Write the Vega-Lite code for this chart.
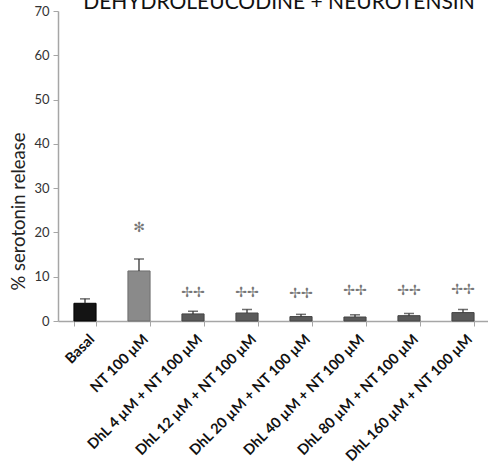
{
  "$schema": "https://vega.github.io/schema/vega-lite/v6.json",
  "autosize": {"type": "none"},
  "width": 432,
  "height": 310,
  "padding": {"left": 58, "top": 11, "right": 0, "bottom": 155},
  "background": "white",
  "config": {
    "font": "Lato",
    "view": {"stroke": null}
  },
  "title": {
    "text": "DEHYDROLEUCODINE + NEUROTENSIN",
    "font": "Lato",
    "fontSize": 21,
    "fontWeight": "normal",
    "color": "#111111",
    "anchor": "middle",
    "frame": "group",
    "baseline": "top",
    "offset": 0,
    "dy": 8,
    "dx": 5
  },
  "data": {
    "values": [
      {"group": "Basal", "mean": 4.0, "upper": 5.0, "kind": "basal", "mark": ""},
      {"group": "NT 100 µM", "mean": 11.3, "upper": 14.0, "kind": "nt", "mark": "✻", "markY": 21},
      {"group": "DhL 4 µM + NT 100 µM", "mean": 1.6, "upper": 2.2, "kind": "dhl", "mark": "✢✢", "markY": 6.3},
      {"group": "DhL 12 µM + NT 100 µM", "mean": 1.8, "upper": 2.6, "kind": "dhl", "mark": "✢✢", "markY": 6.3},
      {"group": "DhL 20 µM + NT 100 µM", "mean": 1.0, "upper": 1.5, "kind": "dhl", "mark": "✢✢", "markY": 6.2},
      {"group": "DhL 40 µM + NT 100 µM", "mean": 0.9, "upper": 1.4, "kind": "dhl", "mark": "✢✢", "markY": 6.8},
      {"group": "DhL 80 µM + NT 100 µM", "mean": 1.2, "upper": 1.7, "kind": "dhl", "mark": "✢✢", "markY": 6.8},
      {"group": "DhL 160 µM + NT 100 µM", "mean": 1.9, "upper": 2.6, "kind": "dhl", "mark": "✢✢", "markY": 7.0}
    ]
  },
  "encoding": {
    "x": {
      "field": "group",
      "type": "nominal",
      "sort": null,
      "scale": {"paddingInner": 0.59, "paddingOuter": 0.295},
      "axis": {
        "title": null,
        "labelAngle": -45,
        "labelAlign": "right",
        "labelBaseline": "top",
        "labelFontSize": 14.5,
        "labelFontWeight": "bold",
        "labelColor": "#111111",
        "labelPadding": 6,
        "labelOffset": 2,
        "labelLimit": 300,
        "domainColor": "#a6a6a6",
        "domainWidth": 1.5,
        "tickColor": "#a6a6a6",
        "tickBand": "extent",
        "tickSize": 5,
        "ticks": true
      }
    }
  },
  "layer": [
    {
      "mark": {"type": "bar", "strokeWidth": 1},
      "encoding": {
        "y": {
          "field": "mean",
          "type": "quantitative",
          "scale": {"domain": [0, 70], "nice": false},
          "axis": {
            "title": "% serotonin release",
            "titleFontSize": 18.5,
            "titleFontWeight": "normal",
            "titleColor": "#222222",
            "titleAngle": -90,
            "titleY": 200,
            "titleX": -40,
            "titleAlign": "center",
            "titleBaseline": "middle",
            "values": [0, 10, 20, 30, 40, 50, 60, 70],
            "labelFontSize": 13,
            "labelColor": "#333333",
            "labelPadding": 4,
            "grid": false,
            "domainColor": "#a6a6a6",
            "domainWidth": 1.5,
            "tickColor": "#a6a6a6",
            "tickSize": 5
          }
        },
        "color": {
          "field": "kind",
          "type": "nominal",
          "scale": {"domain": ["basal", "nt", "dhl"], "range": ["#141414", "#8a8a8a", "#5a5a5a"]},
          "legend": null
        },
        "stroke": {
          "field": "kind",
          "type": "nominal",
          "scale": {"domain": ["basal", "nt", "dhl"], "range": ["#000000", "#6e6e6e", "#444444"]},
          "legend": null
        }
      }
    },
    {
      "mark": {"type": "rule", "color": "#333333", "strokeWidth": 1.3},
      "encoding": {
        "y": {"field": "mean", "type": "quantitative"},
        "y2": {"field": "upper"}
      }
    },
    {
      "mark": {"type": "tick", "color": "#333333", "thickness": 1.5, "size": 10},
      "encoding": {
        "y": {"field": "upper", "type": "quantitative"}
      }
    },
    {
      "mark": {"type": "text", "fontSize": 14, "color": "#777777", "baseline": "middle", "font": "DejaVu Sans"},
      "encoding": {
        "y": {"field": "markY", "type": "quantitative"},
        "text": {"field": "mark"}
      }
    }
  ]
}
